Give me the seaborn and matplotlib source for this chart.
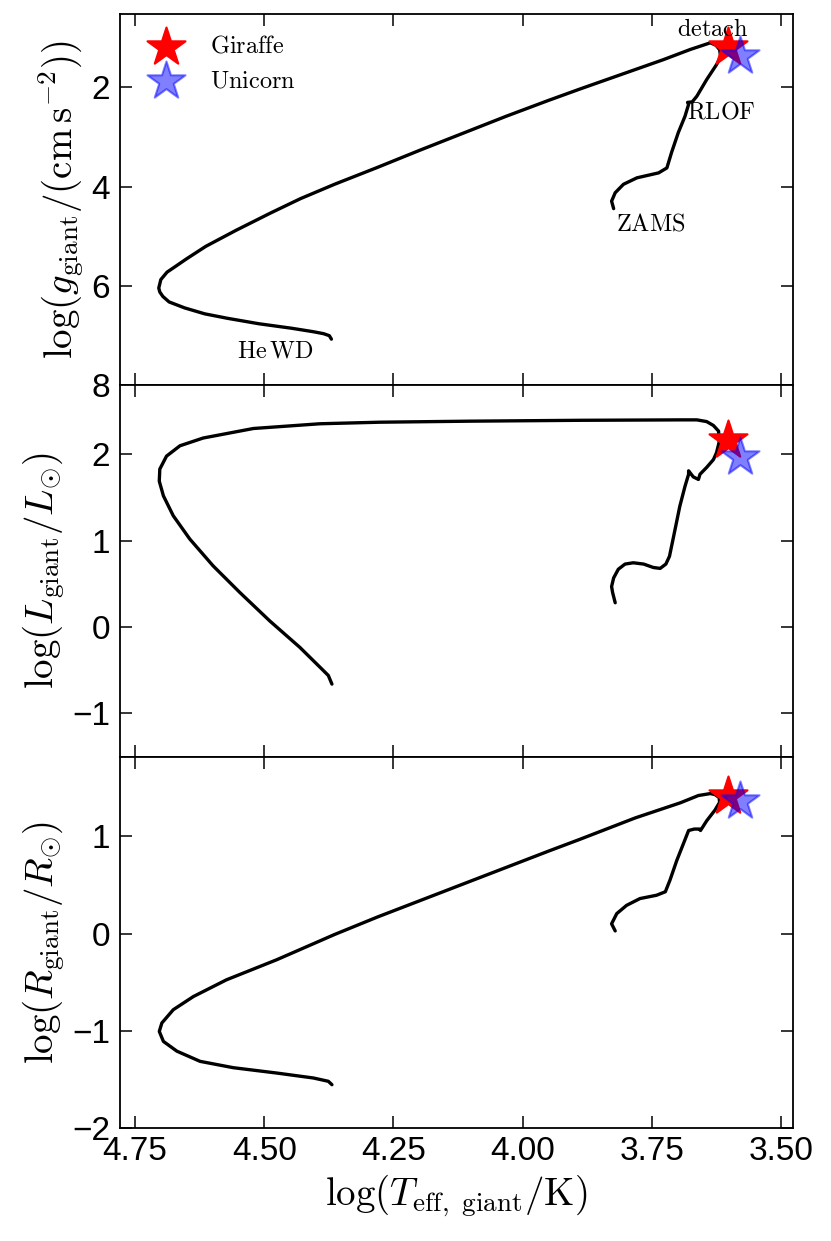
import matplotlib
matplotlib.use('Agg')
import matplotlib.pyplot as plt
import seaborn as sns
import pandas as pd

# evolutionary track
# panel 1: log Teff vs log g
logt_g = [3.824, 3.828, 3.821, 3.805, 3.779, 3.737, 3.721, 3.712, 3.699, 3.686,
          3.679, 3.681, 3.672, 3.663, 3.644, 3.625, 3.617, 3.619, 3.626, 3.637,
          3.676, 3.728, 3.889, 3.950, 4.032, 4.115, 4.198, 4.281, 4.364, 4.430,
          4.488, 4.555, 4.613, 4.650, 4.671, 4.688, 4.700, 4.704, 4.702, 4.696,
          4.684, 4.654, 4.615, 4.571, 4.510, 4.447, 4.405, 4.385, 4.374, 4.370]
logg = [4.44, 4.29, 4.12, 3.95, 3.82, 3.72, 3.62, 3.31, 2.91, 2.58,
        2.34, 2.30, 2.29, 2.175, 1.84, 1.54, 1.38, 1.24, 1.15, 1.10,
        1.235, 1.44, 2.03, 2.26, 2.58, 2.92, 3.26, 3.61, 3.95, 4.24,
        4.53, 4.88, 5.20, 5.45, 5.60, 5.72, 5.87, 6.04, 6.12, 6.21,
        6.32, 6.44, 6.56, 6.65, 6.76, 6.85, 6.92, 6.96, 7.00, 7.07]

# panel 2: log Teff vs log L
logt_l = [3.821, 3.826, 3.828, 3.824, 3.815, 3.802, 3.786, 3.766, 3.747, 3.734,
          3.723, 3.716, 3.708, 3.696, 3.686, 3.679, 3.679, 3.670, 3.660, 3.657,
          3.644, 3.631, 3.625, 3.620, 3.621, 3.631, 3.644, 3.663, 3.695, 3.889,
          4.100, 4.276, 4.392, 4.521, 4.618, 4.663, 4.689, 4.702, 4.703, 4.695,
          4.676, 4.644, 4.599, 4.547, 4.489, 4.431, 4.392, 4.376, 4.369]
logl = [0.282, 0.40, 0.47, 0.57, 0.67, 0.73, 0.745, 0.73, 0.69, 0.68,
        0.73, 0.82, 1.05, 1.40, 1.63, 1.77, 1.81, 1.74, 1.71, 1.77,
        1.85, 1.94, 2.02, 2.14, 2.27, 2.335, 2.38, 2.40, 2.40, 2.395,
        2.385, 2.373, 2.355, 2.30, 2.19, 2.10, 1.98, 1.83, 1.69, 1.52,
        1.29, 1.02, 0.71, 0.40, 0.07, -0.235, -0.465, -0.56, -0.66]

# panel 3: log Teff vs log R
logt_r = [3.821, 3.828, 3.818, 3.799, 3.773, 3.741, 3.724, 3.715, 3.702, 3.689,
          3.679, 3.668, 3.658, 3.656, 3.644, 3.628, 3.619, 3.620, 3.628, 3.637,
          3.660, 3.695, 3.782, 3.889, 3.949, 4.032, 4.115, 4.198, 4.281, 4.364,
          4.476, 4.573, 4.637, 4.676, 4.698, 4.703, 4.695, 4.669, 4.624, 4.560,
          4.476, 4.405, 4.376, 4.369]
logr = [0.027, 0.10, 0.205, 0.29, 0.36, 0.394, 0.43, 0.55, 0.75, 0.925,
        1.06, 1.075, 1.075, 1.06, 1.16, 1.27, 1.35, 1.40, 1.43, 1.44,
        1.42, 1.345, 1.19, 0.97, 0.85, 0.68, 0.51, 0.34, 0.17, -0.01,
        -0.27, -0.476, -0.648, -0.784, -0.92, -1.007, -1.11, -1.21, -1.315, -1.38,
        -1.435, -1.486, -1.52, -1.555]

# observed stars
star_names = ['Giraffe', 'Unicorn']
star_logt = [3.602, 3.579]
star_logg = [1.19, 1.37]
star_logl = [2.17, 1.97]
star_logr = [1.42, 1.36]
star_colors = ['red', 'blue']
star_alpha = [1.0, 0.5]

# labels along the track (top panel)
ann_text = ['detach', 'RLOF', 'ZAMS', 'He\\,WD']
ann_logt = [3.633, 3.616, 3.753, 4.478]
ann_logg = [0.85, 2.51, 4.76, 7.32]

sns.set_style('ticks')
plt.rcParams['font.family'] = ['Liberation Sans', 'DejaVu Sans']
plt.rcParams['mathtext.fontset'] = 'cm'
for key in ['text.color', 'axes.labelcolor', 'xtick.color', 'ytick.color', 'axes.edgecolor']:
    plt.rcParams[key] = 'black'

fig, axes = plt.subplots(3, 1, figsize=(8.31, 12.41), dpi=100, sharex=True)
fig.subplots_adjust(left=0.1444, right=0.9543, top=0.9887, bottom=0.0911, hspace=0)

panels = [(logt_g, logg, star_logg), (logt_l, logl, star_logl), (logt_r, logr, star_logr)]
for ax, (tx, ty, sy) in zip(axes, panels):
    track = pd.DataFrame({'logT': tx, 'val': ty})
    sns.lineplot(data=track, x='logT', y='val', sort=False, estimator=None,
                 color='black', lw=2.4, solid_joinstyle='round',
                 solid_capstyle='round', ax=ax)
    for name, t, v, c, a in zip(star_names, star_logt, sy, star_colors, star_alpha):
        sns.scatterplot(x=[t], y=[v], marker='*', s=830, color=c, edgecolor=c,
                        linewidth=1.5, alpha=a, label=r'$\mathrm{%s}$' % name,
                        ax=ax, zorder=3)
    ax.tick_params(direction='in', top=True, right=True, length=8.5, width=1.1,
                   labelsize=24)
    ax.tick_params(axis='y', pad=7)
    ax.tick_params(axis='x', pad=6)
    for sp in ax.spines.values():
        sp.set_linewidth(1.3)
    ax.set_xlabel('')
    if ax is not axes[0]:
        ax.get_legend().remove()

ax1, ax2, ax3 = axes
ax1.set_xlim(4.779, 3.477)
ax1.set_ylim(8, 0.52)
ax1.set_yticks([2, 4, 6, 8])
ax2.set_ylim(-1.5, 2.8)
ax2.set_yticks([-1, 0, 1, 2])
ax3.set_ylim(-2, 1.82)
ax3.set_yticks([-2, -1, 0, 1])
ax3.set_xticks([4.75, 4.5, 4.25, 4.0, 3.75, 3.5])
ax3.set_xticklabels(['4.75', '4.50', '4.25', '4.00', '3.75', '3.50'])

ax1.legend(loc='upper left', frameon=False, fontsize=17.5, scatterpoints=1)
for txt, t, g in zip(ann_text, ann_logt, ann_logg):
    ax1.text(t, g, r'$\mathrm{%s}$' % txt, fontsize=17.5, ha='center', va='center')

ax1.set_ylabel(r'$\log(g_{\rm giant}/({\rm cm\,s^{-2}}))$', fontsize=28)
ax2.set_ylabel(r'$\log(L_{\rm giant}/L_{\odot})$', fontsize=28)
ax3.set_ylabel(r'$\log(R_{\rm giant}/R_{\odot})$', fontsize=28)
ax3.set_xlabel(r'$\log(T_{\rm eff,\ giant}/{\rm K})$', fontsize=28)

fig.savefig('out.png', dpi=100)
